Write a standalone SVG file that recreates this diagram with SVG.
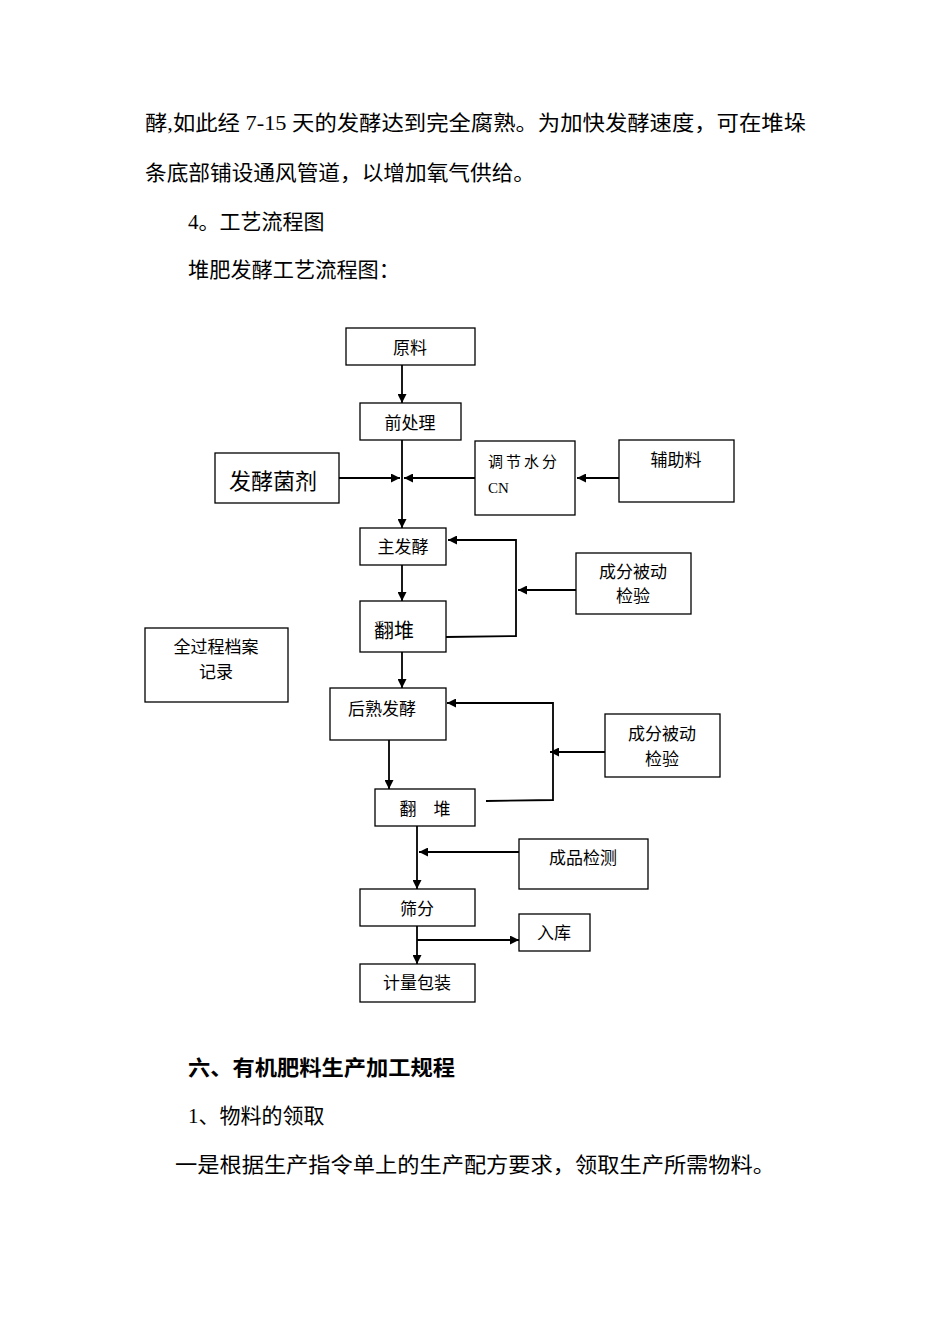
<svg xmlns="http://www.w3.org/2000/svg" width="950" height="1344" viewBox="0 0 950 1344">
<style>
.b{fill:#fff;stroke:#000;stroke-width:1.3}
.t{font-family:"Liberation Serif","Noto Sans CJK SC",serif;fill:#000}
.p{font-size:21px}
.n{font-size:17px;text-anchor:middle}
.c{stroke:#000;stroke-width:1.8;fill:none}
</style>
<defs><marker id="a" viewBox="0 0 10 10" refX="10" refY="5" markerWidth="5" markerHeight="5" orient="auto"><path d="M0,0L10,5L0,10z" fill="#000"/></marker></defs>
<rect width="950" height="1344" fill="#fff"/>
<text class="t p" x="145" y="130" textLength="661" lengthAdjust="spacingAndGlyphs">酵,如此经 7-15 天的发酵达到完全腐熟。为加快发酵速度，可在堆垛</text>
<text class="t p" x="145" y="180" textLength="390" lengthAdjust="spacingAndGlyphs">条底部铺设通风管道，以增加氧气供给。</text>
<text class="t p" x="188" y="229">4。工艺流程图</text>
<text class="t p" x="188" y="277" textLength="212" lengthAdjust="spacingAndGlyphs">堆肥发酵工艺流程图：</text>
<text class="t p" x="188" y="1075" font-weight="bold" textLength="267" lengthAdjust="spacingAndGlyphs">六、有机肥料生产加工规程</text>
<text class="t p" x="188" y="1123">1、物料的领取</text>
<text class="t p" x="175" y="1172" textLength="600" lengthAdjust="spacingAndGlyphs">一是根据生产指令单上的生产配方要求，领取生产所需物料。</text>
<g id="connectors">
<path class="c" d="M402,365V403" marker-end="url(#a)"/>
<path class="c" d="M402,440V528" marker-end="url(#a)"/>
<path class="c" d="M339,478H400" marker-end="url(#a)"/>
<path class="c" d="M475,478H404" marker-end="url(#a)"/>
<path class="c" d="M619,478H577" marker-end="url(#a)"/>
<path class="c" d="M402,565V601" marker-end="url(#a)"/>
<path class="c" d="M446,637L516,636V540H448" marker-end="url(#a)"/>
<path class="c" d="M576,590H518" marker-end="url(#a)"/>
<path class="c" d="M402,652V688" marker-end="url(#a)"/>
<path class="c" d="M389,740V789" marker-end="url(#a)"/>
<path class="c" d="M486,801L553,800V703H447" marker-end="url(#a)"/>
<path class="c" d="M605,752H550" marker-end="url(#a)"/>
<path class="c" d="M417,826V889" marker-end="url(#a)"/>
<path class="c" d="M519,852H419" marker-end="url(#a)"/>
<path class="c" d="M417,926V964" marker-end="url(#a)"/>
<path class="c" d="M417,940H519" marker-end="url(#a)"/>
</g>
<g id="n1"><rect class="b" x="346" y="328" width="129" height="37"/><text class="t n" x="410" y="354">原料</text></g>
<g id="n2"><rect class="b" x="360" y="403" width="101" height="37"/><text class="t n" x="410" y="429">前处理</text></g>
<g id="n3"><rect class="b" x="215" y="453" width="124" height="50"/><text class="t" x="229" y="489" font-size="22">发酵菌剂</text></g>
<g id="n4"><rect class="b" x="475" y="441" width="100" height="74"/><text class="t" x="488" y="467" font-size="15" letter-spacing="3">调节水分</text><text class="t" x="488" y="493" font-size="15">CN</text></g>
<g id="n5"><rect class="b" x="619" y="440" width="115" height="62"/><text class="t n" x="676" y="466">辅助料</text></g>
<g id="n6"><rect class="b" x="360" y="528" width="86" height="37"/><text class="t n" x="403" y="553">主发酵</text></g>
<g id="n7"><rect class="b" x="576" y="553" width="115" height="61"/><text class="t n" x="633" y="578">成分被动</text><text class="t n" x="633" y="602">检验</text></g>
<g id="n8"><rect class="b" x="360" y="601" width="86" height="51"/><text class="t" x="374" y="638" font-size="20">翻堆</text></g>
<g id="n9"><rect class="b" x="145" y="628" width="143" height="74"/><text class="t n" x="216" y="653">全过程档案</text><text class="t n" x="216" y="678">记录</text></g>
<g id="n10"><rect class="b" x="330" y="688" width="116" height="52"/><text class="t n" x="382" y="715">后熟发酵</text></g>
<g id="n11"><rect class="b" x="605" y="714" width="115" height="63"/><text class="t n" x="662" y="740">成分被动</text><text class="t n" x="662" y="765">检验</text></g>
<g id="n12"><rect class="b" x="375" y="789" width="100" height="37"/><text class="t n" x="425" y="815">翻　堆</text></g>
<g id="n13"><rect class="b" x="519" y="839" width="129" height="50"/><text class="t n" x="583" y="864">成品检测</text></g>
<g id="n14"><rect class="b" x="360" y="889" width="115" height="37"/><text class="t n" x="417" y="915">筛分</text></g>
<g id="n15"><rect class="b" x="519" y="914" width="71" height="37"/><text class="t n" x="554" y="939">入库</text></g>
<g id="n16"><rect class="b" x="360" y="964" width="115" height="38"/><text class="t n" x="417" y="989">计量包装</text></g>
</svg>
